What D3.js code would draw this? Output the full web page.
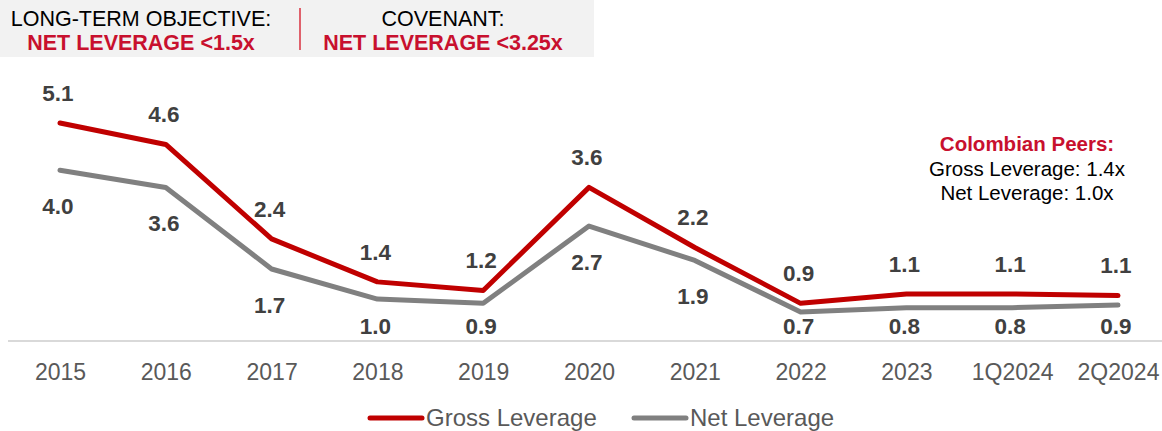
<!DOCTYPE html>
<html>
<head>
<meta charset="utf-8">
<title>Leverage</title>
<script src="https://cdn.jsdelivr.net/npm/d3@7"></script>
<style>
  body { margin: 0; background: #fff; }
  svg { font-family: "Liberation Sans", Arial, sans-serif; }
</style>
</head>
<body>
<script>
// data
var periods = ["2015", "2016", "2017", "2018", "2019", "2020", "2021", "2022", "2023", "1Q2024", "2Q2024"];
var grossLeverage = [5.1, 4.6, 2.4, 1.4, 1.2, 3.6, 2.2, 0.9, 1.12, 1.12, 1.08];
var netLeverage = [4.0, 3.6, 1.7, 1.0, 0.9, 2.7, 1.9, 0.7, 0.8, 0.8, 0.86];
var seriesNames = ["Gross Leverage", "Net Leverage"];
var peersLines = ["Gross Leverage: 1.4x", "Net Leverage: 1.0x"];

var W = 1162, H = 431;
var red = "#c00000", grey = "#808080";

var svg = d3.select("body").append("svg")
    .attr("width", W)
    .attr("height", H);

var x = d3.scalePoint().domain(periods).range([60, 1118]);
var y = d3.scaleLinear().domain([0, 5.1]).range([342, 123]);

// axis line
svg.append("line")
    .attr("x1", 8).attr("x2", W)
    .attr("y1", 341).attr("y2", 341)
    .attr("stroke", "#d9d9d9")
    .attr("stroke-width", 2);

var xAxis = svg.append("g")
    .attr("transform", "translate(0,341)")
    .call(d3.axisBottom(x).tickSize(0).tickPadding(0));
xAxis.select(".domain").remove();
xAxis.selectAll("text")
    .attr("y", 31)
    .attr("dy", "0.35em")
    .style("font-family", "Liberation Sans, Arial, sans-serif")
    .style("font-size", "23px")
    .attr("fill", "#595959");

var line = d3.line()
    .x(function(d, i) { return x(periods[i]); })
    .y(function(d) { return y(d); });

[[netLeverage, grey], [grossLeverage, red]].forEach(function(s) {
  svg.append("path")
      .datum(s[0])
      .attr("fill", "none")
      .attr("stroke", s[1])
      .attr("stroke-width", 5)
      .attr("stroke-linecap", "round")
      .attr("stroke-linejoin", "round")
      .attr("d", line);
});

var fmt = d3.format(".1f");

// value labels
svg.selectAll(".glabel")
    .data(grossLeverage)
    .enter().append("text")
    .attr("x", function(d, i) { return x(periods[i]) - 2; })
    .attr("y", function(d) { return y(d) - 30; })
    .attr("dy", "0.35em")
    .attr("text-anchor", "middle")
    .attr("font-size", "22.5px")
    .attr("font-weight", "bold")
    .attr("fill", "#404040")
    .text(fmt);

svg.selectAll(".nlabel")
    .data(netLeverage)
    .enter().append("text")
    .attr("x", function(d, i) { return x(periods[i]) - 2; })
    .attr("y", function(d) { return Math.min(y(d) + 36, 326); })
    .attr("dy", "0.35em")
    .attr("text-anchor", "middle")
    .attr("font-size", "22.5px")
    .attr("font-weight", "bold")
    .attr("fill", "#404040")
    .text(fmt);

// top box
svg.append("rect")
    .attr("x", 0).attr("y", 0)
    .attr("width", 594).attr("height", 57)
    .attr("fill", "#f2f2f2");
svg.append("line")
    .attr("x1", 300).attr("x2", 300)
    .attr("y1", 8).attr("y2", 50)
    .attr("stroke", "#d9303f")
    .attr("stroke-width", 1.5);

function boxText(cx, t1, t2) {
  svg.append("text")
      .attr("x", cx).attr("y", 26)
      .attr("text-anchor", "middle")
      .attr("font-size", "21.5px")
      .attr("fill", "#000")
      .text(t1);
  svg.append("text")
      .attr("x", cx).attr("y", 50)
      .attr("text-anchor", "middle")
      .attr("font-size", "21.5px")
      .attr("font-weight", "bold")
      .attr("fill", "#c8102e")
      .text(t2);
}
boxText(141, "LONG-TERM OBJECTIVE:", "NET LEVERAGE <1.5x");
boxText(443, "COVENANT:", "NET LEVERAGE <3.25x");

// Colombian peers note
svg.append("text")
    .attr("x", 1027).attr("y", 151)
    .attr("text-anchor", "middle")
    .attr("font-size", "20.5px")
    .attr("font-weight", "bold")
    .attr("fill", "#c8102e")
    .text("Colombian Peers:");
svg.selectAll(".peers")
    .data(peersLines)
    .enter().append("text")
    .attr("x", 1027)
    .attr("y", function(d, i) { return 176 + i * 24; })
    .attr("text-anchor", "middle")
    .attr("font-size", "20.5px")
    .attr("fill", "#000")
    .text(function(d) { return d; });

// legend
var legend = svg.selectAll(".legend")
    .data(seriesNames)
    .enter().append("g")
    .attr("transform", function(d, i) { return "translate(" + (370 + i * 264) + ",418)"; });
legend.append("line")
    .attr("x1", 0).attr("x2", 52)
    .attr("stroke", function(d, i) { return i ? grey : red; })
    .attr("stroke-width", 5)
    .attr("stroke-linecap", "round");
legend.append("text")
    .attr("x", 56)
    .attr("dy", "0.35em")
    .attr("font-size", "24px")
    .attr("fill", "#595959")
    .text(function(d) { return d; });
</script>
</body>
</html>
